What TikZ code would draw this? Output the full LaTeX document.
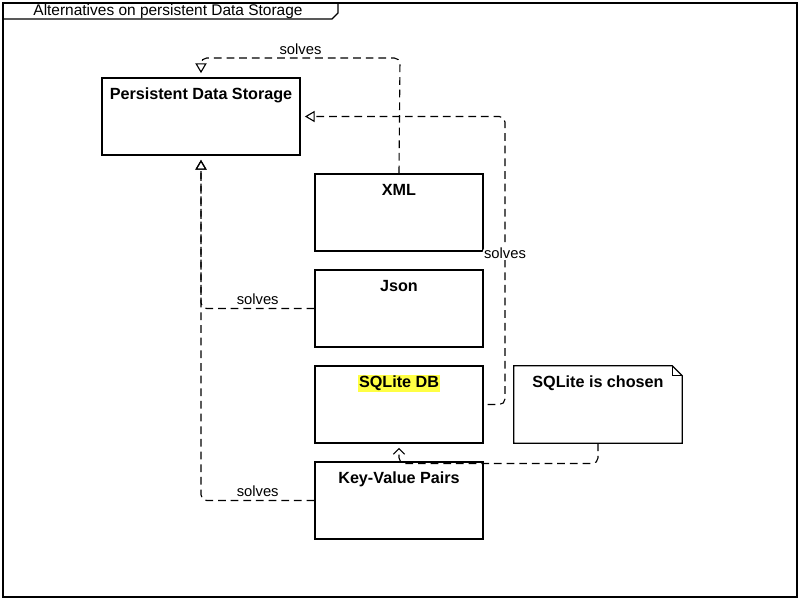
\documentclass[tikz,border=0pt]{standalone}
\usepackage{fontspec}
\setmainfont{Liberation Sans}
\usetikzlibrary{arrows.meta,calc}
\definecolor{hlyellow}{HTML}{FFFF44}

\begin{document}
\begin{tikzpicture}[x=0.025cm, y=-0.025cm, font=\fontsize{10.5}{12}\selectfont,
  cls/.style={draw, line width=0.9pt, minimum width=4.2cm, minimum height=1.925cm, inner sep=0pt},
  clsname/.style={font=\fontsize{11.5}{13}\selectfont\bfseries, anchor=north, inner sep=1pt, yshift=-6.3pt},
  dep/.style={dashed, dash pattern=on 5.5pt off 3.5pt, line width=0.8pt, rounded corners=4pt},
  solvesarrow/.style={dep, -{Triangle[open, length=7pt, width=8pt]}, shorten >=3pt}]
\useasboundingbox (0,0) rectangle (800,600);
% frame and title tab
\draw[line width=0.9pt] (3,3) rectangle (797,597);
\draw[line width=0.9pt] (3,19) -- (332,19) -- (338,13) -- (338,3);
\node[font=\fontsize{11}{12}\selectfont] (title) at (168,11) {Alternatives on persistent Data Storage};
% classes
\node[cls, minimum width=4.95cm] (pds) at (201,116.5) {};
\node[clsname] at (pds.north) {Persistent Data Storage};
\node[cls] (xml) at (399,212.5) {};
\node[clsname] at (xml.north) {XML};
\node[cls] (json) at (399,308.5) {};
\node[clsname] at (json.north) {Json};
\node[cls] (sqlite) at (399,404.5) {};
\node[clsname, fill=hlyellow] at (sqlite.north) {SQLite DB};
\node[cls] (kvp) at (399,500.5) {};
\node[clsname] at (kvp.north) {Key-Value Pairs};
% note
\node[minimum width=4.2cm, minimum height=1.925cm, inner sep=0pt] (note) at (598,404.5) {};
\draw[line width=0.9pt] (note.north west) -- ($(note.north east)+(-10,0)$) -- ($(note.north east)+(0,10)$)
  -- (note.south east) -- (note.south west) -- cycle;
\draw[line width=0.6pt] ($(note.north east)+(-10,0)$) -- ($(note.north east)+(-10,10)$) -- ($(note.north east)+(0,10)$);
\node[clsname] at (note.north) {SQLite is chosen};
% connectors
\draw[solvesarrow] (xml.north) -- (400,58) -| (pds.north)
  node[pos=0.25, above=-1pt] {solves};
\draw[solvesarrow] ($(sqlite.east)+(4,0)$) -- (505,404.5) |- (pds.east)
  node[pos=0.263, fill=white, inner sep=1pt] {solves};
\draw[solvesarrow] (json.west) -| (pds.south)
  node[pos=0.25, above=-1pt] {solves};
\draw[solvesarrow] (kvp.west) -| (pds.south)
  node[pos=0.25, above=-1pt] {solves};
\draw[dep, -{Straight Barb[length=4pt, width=8pt]}, shorten >=3pt] (note.south) -- (598,463.5) -| (sqlite.south);
\end{tikzpicture}
\end{document}
